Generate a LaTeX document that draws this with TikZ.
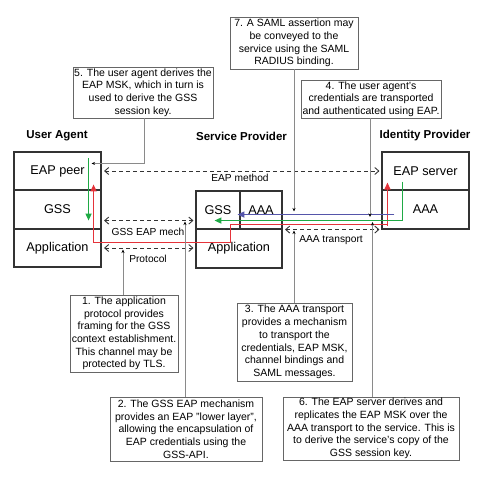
\documentclass[tikz,border=0pt]{standalone}
\usepackage{fontspec}
\setmainfont{Liberation Sans}
\usetikzlibrary{arrows.meta,calc}
\definecolor{cgreen}{HTML}{1FAA45}
\definecolor{cred}{HTML}{E5333A}
\definecolor{cblue}{HTML}{5555AA}
\definecolor{boxline}{HTML}{333333}
\definecolor{noteline}{HTML}{666666}
\definecolor{callcol}{HTML}{8A8A8A}
\tikzset{
  layer/.style={draw=boxline, line width=1.1pt, inner sep=0pt, font=\fontsize{12.7}{14}\selectfont},
  title/.style={font=\fontsize{11.5}{13}\selectfont\bfseries, inner sep=0pt},
  note/.style={draw=noteline, line width=0.7pt, fill=white, align=center, inner sep=1pt, font=\fontsize{10.5}{12.7}\selectfont},
  elabel/.style={font=\fontsize{10.2}{12}\selectfont, inner sep=0pt},
  dasharrow/.style={dashed, dash pattern=on 4pt off 3pt, line width=0.9pt, draw=boxline, {Straight Barb[length=4pt,width=7pt]}-{Straight Barb[length=4pt,width=7pt]}},
  callout/.style={draw=callcol, line width=0.8pt, -{Stealth[length=3.5pt,width=3pt,black]}},
  flow/.style={line width=1.4pt, -{Triangle[length=7pt,width=6pt]}},
}
\begin{document}
\begin{tikzpicture}[x=1pt,y=-1pt]
\useasboundingbox (0,0) rectangle (486,476);
% titles
\node[title] (tUA) at (57,136) {User Agent};
\node[title] (tSP) at (241.5,136) {Service Provider};
\node[title] (tIP) at (425,136) {Identity Provider};
% user agent
\node[layer, minimum width=87pt, minimum height=38pt] (uaPeer) at (57.5,171) {EAP peer};
\node[layer, minimum width=87pt, minimum height=39pt] (uaGSS) at (57.5,209.5) {GSS};
\node[layer, minimum width=87pt, minimum height=38pt] (uaApp) at (57.5,248) {Application};
% service provider
\node[layer, minimum width=44pt, minimum height=38pt] (spGSS) at (218,210) {GSS};
\node[layer, minimum width=42pt, minimum height=38pt] (spAAA) at (261,210) {AAA};
\node[layer, minimum width=86pt, minimum height=39pt] (spApp) at (239,248.5) {Application};
% identity provider
\node[layer, minimum width=87pt, minimum height=38pt] (idEAP) at (425.5,171) {EAP server};
\node[layer, minimum width=87pt, minimum height=39pt] (idAAA) at (425.5,209.5) {AAA};
% dashed protocol arrows
\draw[dasharrow] ([xshift=2.5pt]uaPeer.east) -- ([xshift=-2pt]idEAP.west);
\node[elabel] (lEAP) at (240,178) {EAP method};
\draw[dasharrow] ($(uaGSS.south east)+(2.5,-9)$) -- ($(spGSS.south west)+(-2,-9)$);
\node[elabel] (lGSS) at (148,232) {GSS EAP mech};
\draw[dasharrow] ([xshift=2.5pt]uaApp.east) -- ($(spApp.west)+(-2,-0.5)$);
\node[elabel] (lProt) at (148,259) {Protocol};
\draw[dasharrow] ($(spAAA.south east)+(2.5,0)$) -- ($(idAAA.south west)+(-2,0)$);
\node[elabel] (lAAA) at (331,240) {AAA transport};
% coloured flows
\draw[flow, cgreen] ($(uaPeer.north east)+(-13,7)$) -- ($(uaGSS.south east)+(-13,-9)$);
\draw[flow, cred] ($(uaApp.south east)+(-8,-25)$) -- ($(uaGSS.north east)+(-8,-5)$);
\draw[line width=1.2pt, cred] ($(uaApp.south east)+(-8,-25)$) -| ($(spApp.north west)+(35,-4)$) -| ($(idEAP.south west)+(6,-8)$);
\draw[flow, cred] ($(idAAA.south west)+(6,-4)$) -- ($(idEAP.south west)+(6,-8)$);
\draw[flow, cgreen] ($(idEAP.south west)+(21,-9)$) |- ($(spGSS.south west)+(19,-9)$);
\draw[flow, cblue] ($(idAAA.south west)+(13,-15)$) -- ($(spAAA.south west)+(-2,-15)$);
% notes
\node[note, minimum width=140pt, minimum height=51pt] (n5) at (143,92.5) {5. The user agent derives the\\EAP MSK, which in turn is\\used to derive the GSS\\session key.};
\node[note, minimum width=128pt, minimum height=52pt] (n7) at (294,43) {7. A SAML assertion may\\be conveyed to the\\service using the SAML\\RADIUS binding.};
\node[note, minimum width=140pt, minimum height=38pt] (n4) at (371,99) {4. The user agent's\\credentials are transported\\and authenticated using EAP.};
\node[note, minimum width=108pt, minimum height=77pt] (n1) at (124,333.5) {1. The application\\protocol provides\\framing for the GSS\\context establishment.\\This channel may be\\protected by TLS.};
\node[note, minimum width=152pt, minimum height=64pt] (n2) at (186,429) {2. The GSS EAP mechanism\\provides an EAP "lower layer",\\allowing the encapsulation of\\EAP credentials using the\\GSS-API.};
\node[note, minimum width=115pt, minimum height=78pt] (n3) at (294.5,342) {3. The AAA transport\\provides a mechanism\\to transport the\\credentials, EAP MSK,\\channel bindings and\\SAML messages.};
\node[note, minimum width=176pt, minimum height=63pt] (n6) at (371,428.5) {6. The EAP server derives and\\replicates the EAP MSK over the\\AAA transport to the service. This is\\to derive the service's copy of the\\GSS session key.};
% callout targets
\coordinate (c5) at ($(uaPeer.north east)+(-10,12)$);
\coordinate (c7) at (294,211.5);
\coordinate (c4) at (370,217);
\coordinate (c1) at (123,249.5);
\coordinate (c2) at (185,221.5);
\coordinate (c3) at (294,230.5);
\coordinate (c6) at (372.5,222);
% callouts
\draw[callout] ($(n5.south)+(1,0)$) |- (c5);
\draw[callout] (n7.south) -- (c7);
\draw[callout] ($(n4.south)+(-1,0)$) -- (c4);
\draw[callout] ($(n1.north)+(-1,0)$) -- (c1);
\draw[callout] ($(n2.north)+(-1,0)$) -- (c2);
\draw[callout] ($(n3.north)+(-0.5,0)$) -- (c3);
\draw[callout] ($(n6.north)+(1.5,0)$) -- (c6);
\end{tikzpicture}
\end{document}
